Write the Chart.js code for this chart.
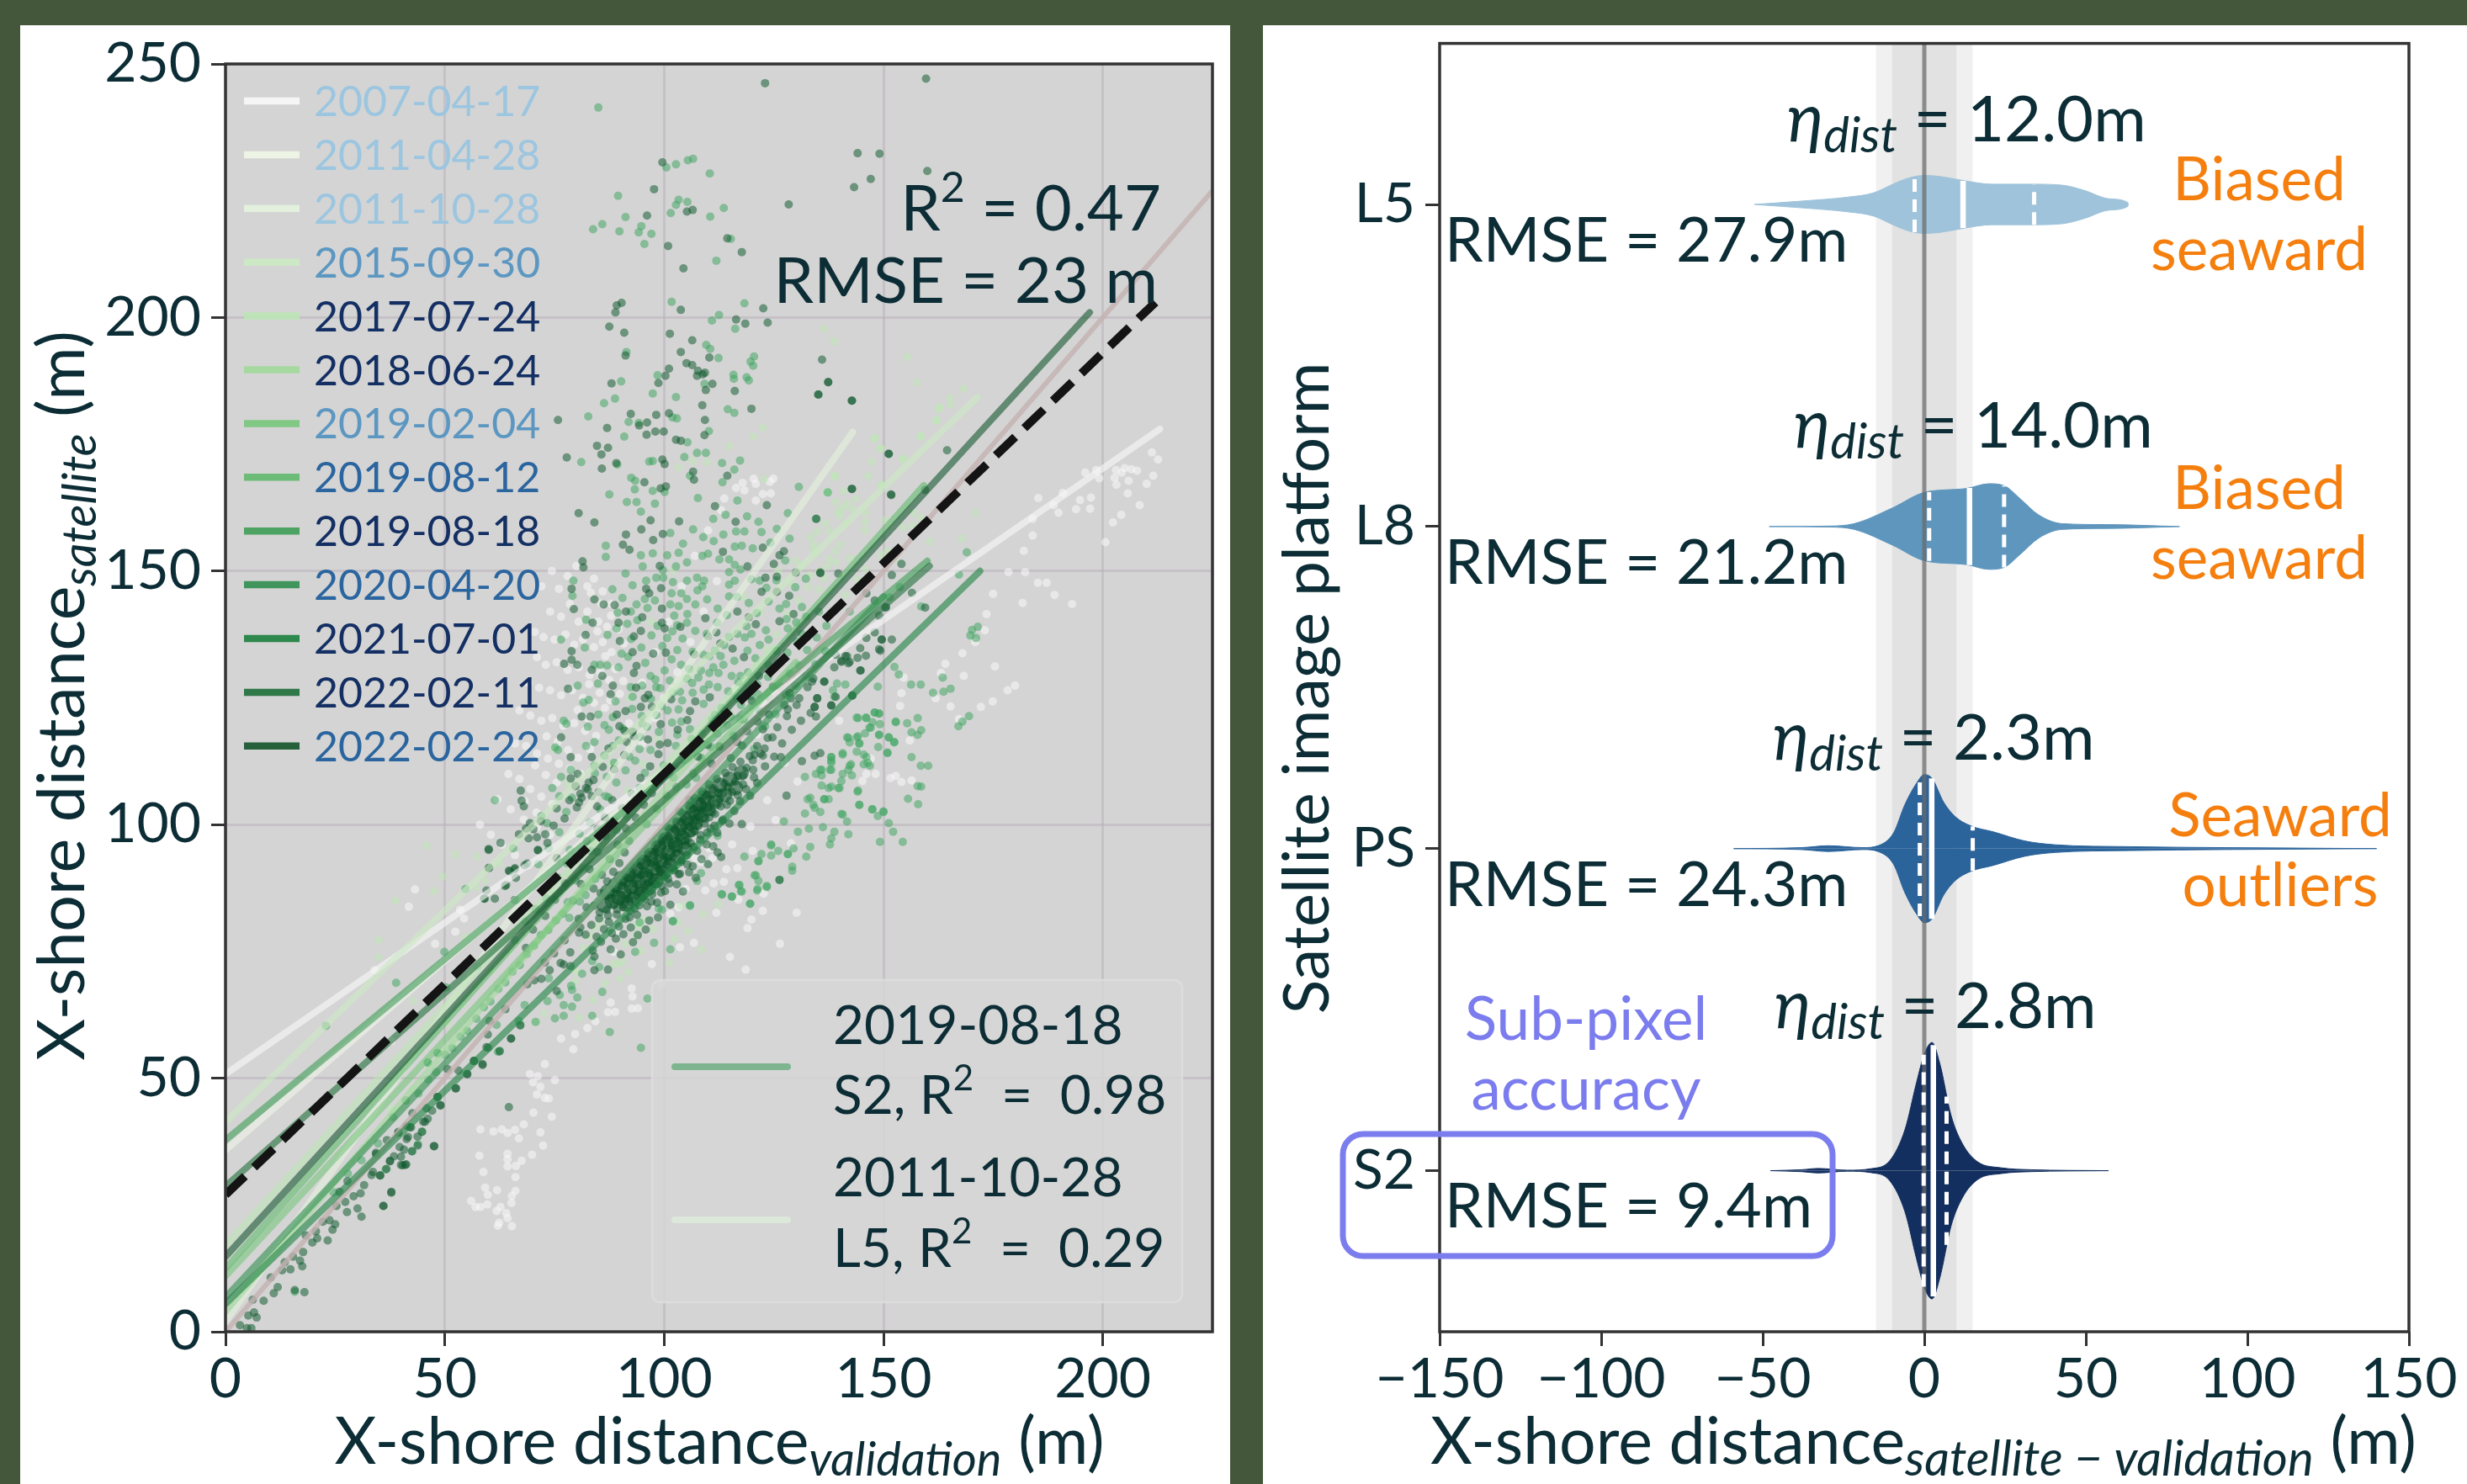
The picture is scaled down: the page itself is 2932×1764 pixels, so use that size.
<!DOCTYPE html>
<html><head><meta charset="utf-8">
<script src="https://cdn.jsdelivr.net/npm/chart.js@4"></script>
<style>
html,body{margin:0;padding:0;width:2932px;height:1764px;background:#45573a;overflow:hidden}
.panel{position:absolute;background:#fff;top:30px;height:1734px}
canvas{position:absolute;left:0;top:0}
</style></head><body>
<div class="panel" style="left:24px;width:1438px"></div>
<div class="panel" style="left:1501px;width:1431px"></div>
<canvas id="left" width="2932" height="1764"></canvas>
<canvas id="right" width="2932" height="1764"></canvas>
<script>
// ---------- left panel data ----------
const dates=['2007-04-17','2011-04-28','2011-10-28','2015-09-30','2017-07-24','2018-06-24','2019-02-04','2019-08-12','2019-08-18','2020-04-20','2021-07-01','2022-02-11','2022-02-22'];
const dateLineColors=['#f7f7f7','#eef4e6','#e3f1dd','#cbe9c4','#bde4b6','#a2d99c','#7bc77f','#66bb72','#46a05c','#379154','#248445','#26733f','#1b5a33'];
const dateTextColors=['#9cc6e0','#9cc6e0','#9cc6e0','#5c97c2','#132f63','#132f63','#5c97c2','#2b659f','#132f63','#2b659f','#132f63','#132f63','#2b659f'];
const fitStart=[[0,50.8],[0,35.8],[0,2],[0,41.4],[0,17],[0,4],[0,11],[0,12.5],[0,37.8],[0,6.8],[0,5.5],[0,28.7],[0,14.8]];
const fitEnd=[[213,178],[110,118],[143,177.4],[171.4,184.3],[125,135],[115,122],[130,132],[159.2,166.9],[160,152],[150,145],[172,150],[160.5,151],[197,201]];
const overallFit=[[0,27],[212,203]];
const oneToOne=[[0,0],[225,225]];
const scatterWhite=[[120.4,168.2],[124.9,168.2],[124.1,167.6],[117.9,167.4],[120.9,167.2],[116.4,166.4],[118.3,165.9],[122.5,165.2],[124.3,165.3],[113.7,164.3],[120.9,163.9],
[211.2,173.4],[212.6,172],[211.5,168.8],[210,167.2],[196,169.4],[198.5,169.9],[199.2,168.3],[203,169.9],[205,170.3],[206.5,170.1],[207.8,169.8],[202.7,168.4],[204.3,169.4],[205.9,167.8],[203.1,167],[205.7,165.3],[208.4,163],[204.2,161.1],[202.3,159.6],[200.6,155.7],[197.3,164.5],[197.1,162.3],[193.9,162.2],[194.8,164],[190.9,165.4],[185.3,164.4],[188.8,163],[189.9,161.5],[184,160.3],[184,157],[182,154],[178.5,149.8],[182.3,149.8],[185.2,147.7],[187.2,147.7],[189,145.3],[193,143.5],[181.7,143.7],[175,145.5],[173.5,141.5],[173.1,138.3],[170.9,136],[168,133.8],[164.1,131.7],[175.4,131.2],[163.1,129.9],[168.3,129.3],[180,127.4],[178.3,126.5],[174.9,124.3],[172.2,123.2],[165.3,123.3],[161.9,124.9],[154.1,125.9],[153.8,123.4],[154.6,129],[139.9,120.5],[156,116.6],[167.2,120.8],[146.1,110],[148.2,110],[151.6,109.2],[152.8,109.6],[154.1,108.4],[156.4,108.7],[145.2,108.6],[147.1,113],
[43.2,87.2],[41.8,83.8],[53.5,83.2],[54.4,81.5],[52.4,78.9],[47.8,76.5],[34,71.3],[37.8,57.3],
[72.8,52.8],[69.4,50.8],[71.2,50.4],[75.1,49.6],[70.1,49.2],[71.8,48.3],[71,46.8],[72.8,46.1],[73.7,46],[70.2,43.2],[74.4,42.4],[68,40.9],[58.1,39.9],[61.1,39.5],[63,39.9],[64.3,39.2],[66,39.8],[71.8,39.3],[66.9,38.1],[72.4,36.7],[69.9,34.9],[57.9,34.7],[64.3,35.1],[64.3,34],[67.5,33.7],[64.3,32.6],[66.2,32.7],[58.8,31.5],[66.1,30.5],[59.2,28.4],[61.9,27.9],[66.1,27.8],[59.8,27],[65.3,26.8],[56,25.8],[57,24.6],[58.1,24.6],[59.7,25.1],[65.2,25.4],[62.7,24.6],[61.8,23.8],[64,23.4],[64.3,22.4],[62.4,21.5],[62.1,20.9],[65.3,20.8],
[76.5,57.8],[79.7,58.7],[82.5,59.9],[84.3,61.2],[79.3,55.7],[87.2,63],[88.8,63.1],[87.8,64.9],[92.6,63.7],[94,63.8],[92.8,66.1],[92.6,67.7],[97.2,72.5],[88.5,74.9],[103.6,75.8],[115,73.9],[118.6,71.4],[126.4,76.5],[119,79.6],[122.5,83],[130.2,82.6],[119.9,81.3],[111.9,82.6],[101.4,82.4],[108.4,92.6],[111,93.4],[114.2,91.2],[116.7,91.4],[111.3,88.4],[109.4,87],[103.3,83.7],[120.2,94.8],[115.5,96.1],[110.3,95.3],[107.1,93.4],[104.9,87.3],[89.2,79],
[72,147],[74.4,150],[76,146.5],[78,149],[80,151],[82.5,147],[84,148.5],[86,146],[88,143.5],[74,142],[76.5,141],[78.5,143.5],[80.5,140],[82.5,142],[85,140],[87,139],[70.5,138],[72.5,137],[75,136.5],[77.5,137.5],[79.5,135.5],[81.5,136.5],[84,135],[86,136],[88,134],[71,133],[73,131.5],[75.5,132],[78,130.5],[80.5,131],[83,129.5],[85.5,130],[87.5,128.5],[69,128],[71.5,127],[74,126.5],[76.5,125.5],[79,126.5],[81.5,125],[84,124],[86.5,123],[67,122.5],[69.5,121.5],[72,120.5],[74.5,121],[77,119.5],[79.5,120],[82,118.5],[84.5,117.5],[66,116],[68.5,115.5],[71,114],[73.5,113],[76,112],[78.5,111],[81,110],[64.5,110],[67,109],[69.5,107],[72,105.5],[74.5,104],[62,105],[65,103],[68,101],[71,99.5],[74,98],[58,100],[60.5,98],[63,96],[66,94],[69,92],[95,128],[98,134],[101,140],[104,147],[107,153],[110,158],[113,162],[100,125],[103,130],[106,136],[109,142],[112,148],[92,120],[95,116],[98,121],
[83.3,145.7],[85.7,143.6],[87.9,141.2],[89.6,138.5],[90.8,135.7],[84.8,138.1],[86.6,133.2],[88.9,130.7],[90.7,128.3],[82.9,127.7],[85.3,126],[87.7,124.5],[89.9,125.8],[80.3,122.6],[82.6,121],[73.2,117.4],[75.7,116.3],[78.1,114.7],[80.4,113.2],[83.1,114.9],[70.6,111.7],[73,109.8],[75.5,108.3],[68.2,104.6],[70.9,102.4],[116.3,126.8],[118.7,122.6],[121.2,117.8],[124.7,121.4],[127.5,112.2],[130.4,108.5],[123.5,104.8],[119.7,99.6],[125.4,100.9],[128.9,96.3],[113.6,88.7],[116.9,85.2],[122.7,86.4],[106.8,76.7],[99.5,68.4]];
const scatterPale=[[136.5,197.8],[138.8,195.3],[155.5,192.2],[157.6,187.2],[162.6,182],[162,179.7],[122.5,178.3],[120.3,176.5],[148,176.1],[158.5,176.5],[114.8,174.6],[149.3,174.2],[154.4,172.1],[147.4,171.5],[109.7,171.5],[103.3,170.4],[139,168.7],[122.8,168.1],[149.6,167],[137.2,165.6],[106.5,171.7],
[168.2,186],[165.2,184.1],[165.3,182.8],[162.7,182.3],[162.1,179.7],[158.5,176.6],[148,176.2],[149.4,174.2],[154.4,172.1],[138.8,168.8],[141,165.8],[137.2,165.5],[149.6,166.9],[139.1,163.6],[141.6,163.3],[140.7,162.5],[142.9,162.2],[140,160.9],[145.8,161.6],[157,161.4],[158.6,160.5],[171,161.5],[141.3,159.3],[145.8,159.7],[150.3,160],[154.4,158.6],[156.7,158.9],[145.8,158],[137.8,157.9],[134.9,157.8],[133.3,156.7],[167.9,156.4],[160.5,155.8],[134,154.2],[134.6,153.4],[139.1,153.9],[139.1,151.7],[136.5,148.6],[133.3,149.2],[137.2,150.9],[135.3,146.4],[142.3,152.5],[149.6,153.1],[150.9,153.9],[152.5,152.5],[145.8,150.3],[144.2,148.4],[141.3,145.3],
[45.8,95.9],[52.4,94.1],[57.3,93.7],[62.4,92.3],[57.2,87.7],[47.6,86.9],[49.5,89.8],[38.8,85],[34.9,77.2],[54.7,77.9],[59.2,89],[34.9,73.8],[42.9,65.2],[54.4,59.1],[37.8,43.9],[38.4,43.6],[42.6,47.8],[49.9,56.1],[52.2,56.9],[70.9,61],[72.6,62.7],[90.5,72.9],[89.6,72.4],[93.7,78.2],[94.4,80.1],[95.6,81.2],[94,80.4],[91.8,71],[89.9,69.6],[102.4,77.4],[108.6,75.4],[85.4,80.7],[84.1,79.6],[82.9,77.9],[81.6,75.7],[80,71],[79.7,69.1],[103.9,84],[112.3,84.3],[103.3,80.7],[75,115],[78,108],[88,112],[92,125],[97,140],[102,150],[118,145],[122,142],[126,150],[130,152],
[118.6,128.4],[121,131.5],[123.4,134.6],[125.7,137.5],[128.3,141.6],[130.6,144.2],[132.9,146.9],[135.4,150],[137.7,152.4],[140.2,155.2],[128.8,147.5],[131.5,151.2],[134.1,155.3],[136.8,159.4],[139.6,161.7],[143.7,164.2],[146.5,168.7],[84.5,96.4],[88.1,101.6],[91.6,106.7],[95.2,112],[98.6,116.8],[78.2,90.3],[74.8,86.6],[71.1,82.7],[67.7,78.9],[64.4,75.1],[60.8,71.2],[57.5,68.4],[54.1,64.6],[50.6,60.9],[88.4,72.6],[91.2,76.5],[94.8,75.1],[97.5,79.4],[101.2,72.8],[105.4,79.1],[108.9,82.3],[86.5,68.7],[83.8,65.4],[80.6,61.9]];
const scatterMid=[[85,241.4],[102.7,230.2],[105.4,231],[106.6,231.3],[100.5,229.6],[110.4,228.4],[89.5,224],[103.3,223.2],[105.3,222.8],[102.7,222.2],[101.5,220.6],[113.6,221.6],[110.5,219.9],[91.2,219.8],[85.9,218.4],[83.8,217.4],[94.8,218],[94.2,216.8],[89.8,217],[97.1,216.5],[95.5,214.5],[115.2,215.5],[111.9,211.2],[101.7,203.1],[118.3,202.8],[112.5,200.5],[110.9,199.4],[116.2,197.8],[109.6,194.6],[110.5,193.8],[91.4,193.2],[112.4,192],[120.5,192.3],[119.7,191.3],[120.3,190.5],[115.8,188.7],[118.8,188.2],[115.9,187.9],[119.3,187.6],[98.5,188.6],[90.2,187.4],[109.2,186.9],[97.4,185],[102.7,184.3],[88.8,184],[86.3,183.1],[82.7,180.5],[114.5,181.9],[116,181.2],[101.9,180.3],[102.9,180.1],[91.9,179.4],[94.2,179.2],[110.2,177.6],[90.9,176.5],[105.3,175.4],[107.5,173.3],[109.5,173.3],[104.6,172.5],[81.1,171.5],[96.6,171.6],[97.4,171.7],[113.2,171.3],[117.3,171.8],[89.3,171],[116,170],[105.9,168.8],[92.5,168.4],[93.4,167.8],[113.3,167.5],[93.3,166.1],[97.4,165.8],[130.7,166.6],[87.5,165.1],[100.1,165.6],[107.7,164.4],[137.3,165.5],
[86.7,155],[86.7,152.8],[94.7,153.1],[93.7,163.6],[91.5,163.6],[97.9,163.3],[94.7,161.7],[101.4,157.5],[105.2,151.7],[102.7,150.9],[100.7,153.1],[103.3,153.6],[108.7,153],[110,153.4],[111.3,155.9],[114,161.1],[116.7,163.9],[116.4,157.8],[118.3,157.8],[121.5,159.7],[122.2,157.7],[125.7,158.3],[128.6,156.4],[128.2,161.4],[134.6,160.3],[116.1,154.8],[117.7,155],[120.2,154.5],[112.6,152.3],[114.8,152.3],[116.1,151.2],[117.4,150.3],[114.8,149.8],[107.5,148.7],[109.1,148.1],[108.7,147],[114.8,147.3],[116.1,148.1],[119.9,148.4],[121.8,148.1],[91.2,149.5],[79.3,148.1],[79.1,145.1],[95.9,148.1],[98.2,148.7],[99.8,148.7],[105.2,148.1],[93.7,143.4],[95.6,144.5],[97.9,144.2],[101.7,145.6],[103.9,145.6],[101.4,143.4],[103.3,143.1],[105.2,144.5],[107.1,143.4],[112.2,142.6],[114.8,145],[119.3,143.7],[123.8,144],[126.3,142.6],[131.4,142.9],[142.3,142],[138.5,142],[82.2,140.4],[89.2,138.7],[92.4,142],[102.3,141.2],[105.2,139.8],[103,139.3],[107.1,138.2],[109.7,137.6],[114.8,137],[116.7,137.6],[119.9,137.6],[123.8,136.5],[128.2,138.7],[131.4,137.6],[135.3,142],[81.9,134.9],[76.5,136.5],[84.1,131.5],[85.4,131.5],[89.6,131],[96.9,129.3],[100.1,130.4],[101.7,132.6],[103.9,131.5],[105.2,128.8],[108.4,130.4],[110.3,129.9],[111.6,134.3],[110.3,133.2],[112.9,133.2],[113.5,131.5],[119,134.3],[121.8,135.4],[123.8,131.5],[115.4,129.3],[117.4,129.3],[121.2,127.7],[80.3,127.4],[92.4,127.1],[95,127.4],[98.2,127.1],[102,126],[106.5,126],[109,126.6],[112.2,127.1],[116.7,124.9],[81.6,124.1],[82.8,124.6],[88.9,124.3],[92.8,125.2],[98.2,121.6],[103.3,122.7],[109,123.8],[111.6,121.6],[77.1,120.5],[77.7,119.9],[86.4,119.6],[95,119.9],[98.8,118.3],[103,117.7],[105.9,118.8],[82.2,115.5],[84.1,116.3],[88.3,115.5],[75.8,114.7],[75.2,115.2],[94.4,114.9],[96.9,114.7],[102.7,115.5],[86.4,113.6],[88.6,112.2],[84.1,111.6],[76.5,109.4],[78.7,110.8],[74.5,107.2],[76.1,105.6],[79,105.3],[72,101.7],[73.3,100.3],[77.7,102.5],[86.7,105.6],[94.4,107.2],[61.4,104.8],[65.6,95.3],
[132.1,109.4],[134.6,110],[135.9,110.8],[138.1,113.3],[138.1,112.2],[140.7,114.1],[142.3,111.6],[137.8,110.8],[141.7,117.2],[143.9,117.2],[144.5,116],[144.2,121],[146.1,121],[148,122.1],[149,121.9],[146.8,119.1],[149,117.7],[151.2,117.2],[152.5,116.3],[152.8,120.2],[145.5,113.8],[146.4,112.2],[150.9,114.1],[133.3,105.3],[132.7,105],[134,103.9],[134.3,103.3],[132.1,102.2],[135.6,102.5],[136.5,105],[137.5,107.2],[139.7,107.2],[144.2,106.7],[144.5,103.9],[140.7,102],[141.7,100.6],[147.4,103],[148.7,101.7],[150,102.5],[151.2,100.3],[152.2,98.6],[154.4,96.6],[149.2,96.6],[142,98.1],[127.3,100.6],[130.5,98.6],[133,99.2],[136.2,99.5],[138.8,98.6],[138.1,97.3],[137.8,96.1],[124.4,96.1],[129.5,95.3],[133.3,95.6],[128.2,94.2],[132.4,93.7],[124.4,93.9],[121.5,92.8],[129.2,91.7],[120.6,90],[121.5,88.9],[117,88.1],[117.7,86.8],[121.2,87],[123.4,87.7],[113.2,86.2],[115.4,85.8],[119.6,84.4],[105.9,84],[102,81],[99.5,83.2],[94.4,80.7],[108.4,90.4],[112.2,97.8],
[169,153.7],[167.2,149.3],[158.6,143],[153.7,146.8],[151.4,144.8],[152.5,131.1],[153.5,129.6],[156.3,127.6],[158.5,127.6],[161.3,126],[163.7,126.2],[165.3,126.8],[163.5,129],[171.5,139],[170.2,138.4],[169.8,137.3],[171.1,136.8],[169.5,121.4],[168,120.3],[167.1,119.4],[148.7,127.2],[141.3,127.6],[139.4,127.8],[138.5,126.5],[138.8,125.2],[146,121.1],[143.9,121.1],[148,122.1],[149,121.9],[152.8,120.3],[155.4,120],[157.8,121],[158.6,118.6],[156.4,118.2],[157.8,117.7],[147.5,120.2],[147.1,119.1],[149.2,119.8],[145.8,118],[149,117.7],[144.2,117.4],[142,117.1],[142.3,116.2],[144.5,116],[151.2,117.2],[152.4,116.2],[148.8,115.3],[150.9,114.2],[143.9,114.4],[140.7,113.8],[138.1,113.3],[138.1,112.6],[146.1,113.3],[142.6,111.9],[145.5,111.9],[146.9,111.6],[156.4,113.3],[158.5,111.6],[160.2,111.6],[138.1,110.8],[142,110.8],[135.6,110.8],[135.9,109.7],[140.7,110],[142.8,109.7],[140.4,108.6],[138.1,107.5],[135.9,107.7],[140,107.2],[144.1,106.5],[157.8,107.6],[158.6,107.5],[155.6,105.1],[157.9,104],[144.5,103.9],[147.5,103],[150,102.6],[140.4,102.1],[137.5,105],[136.5,105],
[54.7,87.3],[38.9,68.8],[49.9,74.9],[50.3,67.9],[57.3,72.1],[46.1,53.1],[48.3,55],[62.1,55.2],[62.5,55.4],[67.2,60.5],[66.9,61.3],[68.2,64.4],[61.8,60.5],[73.4,65.2],[75.1,61.8],[77.1,62.3],[77.1,64.4],[79,64.1],[80.2,65.9],[79,67.4],[83.6,62.3],[85.9,67],[87.6,59.1],[94.7,56],[96.2,65.7],[93.4,74.9],[97.7,76.7],[101.4,75.4],[102,80.9],[98.8,83.4],[105.9,84.1],[107.5,88.9],[113.1,86.3],[115.5,85.8],[119.6,84.4],[121.3,87.3],[123.4,87.9],[126.3,89.1],[117.5,86.9],[117.2,88.1],[120.9,90],[129.2,90.9],[128.2,94.2],[122.2,94.2],[118.3,93.7],[124.4,95.9],[126,94.8],[121.5,92.8],[43.9,37],[44.8,39.5],[42.6,35.6],[36.5,32],[22.9,60.3],[15.8,7.9],[46.1,53.1],[48.4,54.9],[70.7,61.1],
[71.3,92.2],[73.7,95.3],[76.1,98.5],[78.5,95],[80.7,98.2],[83.1,100.4],[85.4,103],[87.3,105.4],[89.1,108.3],[91.2,110.7],[93.4,112.6],[95.6,110.2],[97.8,108.4],[99.9,111.7],[102.1,109.3],[104.3,112.8],[106.6,110.1],[108.7,118],[110.9,120.7],[113.1,123],[115.3,121.1],[117.5,123.6],[119.7,125.3],[121.9,122.4],[124.1,124.9],[126.4,127.3],[128.6,129.8],[130.8,131.4],[82.6,119.3],[85,121.7],[87.4,118.7],[89.7,116.6],[92.1,113.4],[94.5,117.3],[97,124.8],[99.4,123.4],[101.8,120.1],[104.1,124.5],[106.4,127.9],[108.9,133.5],[111.2,131],[113.7,135.4],[116,132.3],[118.4,136.9],[120.8,132.8],[123.2,138.3],[125.6,134.2],[127.9,140.5],[130.3,136.1],[132.6,134.4],[134.8,136.9],[137,139.2],[90.3,133.7],[92.5,136.6],[94.8,134.9],[97.1,137.3],[99.6,135.2],[101.9,138.1],[104.2,136.7],[106.5,134.1],[88.2,146.4],[90.5,144.7],[92.8,147.2],[95.1,150.9],[97.4,153.5],[99.7,150.2],[102,147.8],[104.3,155.4],[106.6,158.2],[108.9,156.7],[111.2,160.3],[113.5,157.2],[118.9,160.8],[124.2,155.6],[127.6,152.1],[129.9,146.8],[132.3,148.5],[46.2,49.7],[50.1,54.6],[53.6,58.2],[57.2,61.7],[60.4,65.1],[63.8,68.9],[67.1,72.3],[70.3,76.1],[73.6,79.2],[76.9,82.4],[44,47],[48,51.2],[51.7,55.9],[55.1,59.3],[58.9,64],[62.2,67.6],[65.4,71],[68.7,74.5],[71.9,78.2],[75.3,81.1],[78,84.7],[81.6,91.4],[83.3,94.8],[31,33.8],[27.9,31.2],[24.6,27.5],[34.8,37.1],[38.2,42.3],[41.1,45.6],
[84.2,110.1],[86.9,109.4],[88.3,121.2],[90.6,118.9],[92.7,122.8],[94.9,121.4],[96.1,119.3],[99.1,126.9],[101.3,128.4],[103.6,126.2],[105.7,130.7],[107.8,129],[110.2,127.6],[112.4,129.9],[114.6,126.3],[116.9,128.1],[119.1,130],[121.4,125.7],[123.7,129.1],[125.9,131.8],[128.1,133.9],[87.1,137.4],[89.4,141.8],[91.6,139.6],[93.9,140.3],[96.2,142.7],[98.5,139.2],[100.7,136.8],[103,134.4],[105.3,141.5],[107.6,146.2],[109.8,144.4],[112.1,139.8],[114.3,141.3],[116.6,144.9],[118.8,139.1],[121.1,141.7],[123.3,146.7],[125.6,148.2],[127.8,143.5],[130.1,139.9],[132.4,141],[84.9,127.8],[87,131.4],[91.8,133.1],[95.7,131.9],[98,128.6],[100.8,122.5],[103.9,120.3],[106.2,116.9],[108.4,113.2],[110.7,115.3],[113.2,119.9],[115.8,117.5],[118.1,120.7],[120.5,114.9],[123,119.4],[125.4,121.8],[127.7,125.6],[130,127.4],[132.3,129.3],[134.5,131.6],[136.7,134.2],[89.2,98.9],[91.5,101.7],[93.8,104.3],[96,100.1],[98.3,103.1],[100.6,105.7],[102.8,107.4],[105.1,107.9],[107.3,109.2],[75.6,89.6],[77.8,92.4],[79.9,89],[82.1,86.1],[84.3,89.3],[73.2,85.4],[70.7,83.3],[68.3,80.9],[66,77.2],[78.4,81.6],[80.8,84.8],[83.6,73.1],[85.2,71.9],[81.3,70.6],[78.8,68.2],[76.2,66.4],[73.7,69.7]];
const scatterDark=[[123,246.2],[159.7,247.1],[99.6,230.6],[144.1,232.4],[149.1,232.3],[160,228.9],[147.1,227.3],[143.3,225.7],[97.7,225.3],[128.4,222.3],[96.1,220.1],[105.2,220.9],[106.5,221.2],[100.9,214.1],[114.4,215.6],[117.7,212.9],[104.4,209.7],[90.3,202.9],[89.2,202.4],[88.9,201],[103.8,201.5],[122.6,201.8],[116.4,199.6],[118.5,198.8],[123.6,199],[87.5,198.2],[90.9,197],[101.3,196.8],[106.4,195.5],[103.8,193.2],[91.2,192.5],[110.3,192.1],[136,191.7],[105.1,191],[106.4,190.6],[101.1,189.9],[107.7,189.5],[109.3,189.1],[107.5,188.5],[108.8,188.8],[100.3,188.5],[98.7,187.1],[88,187],[111,186.9],[137.4,187.3],[109.5,185.7],[116.1,185.5],[135.2,184.8],[142.8,183.6],[108.7,182.7],[119.9,182],[75.8,179.8],[92.4,181],[98.2,180.8],[101.1,181.1],[109.3,179.8],[96.1,179.3],[94.3,178.7],[87,178.2],[98,177.5],[99.9,177.5],[96,176.9],[109.2,176.8],[102.7,175.9],[103.8,175.7],[84.7,174.7],[87.2,174.3],[85.7,173],[77.8,172.4],[89.1,171.3],[85.8,170.2],[99.6,172],[100.1,171.1],[106.6,169.6],[106.8,168],[114.4,168.8],[95.5,167.5],[151.2,173.1],[142.8,166.2],[99.2,166.3],[100.4,166.7],[151.8,165],
[80.5,161.4],[84.1,159.6],[96.9,160],[103.4,159.8],[94.8,158.2],[91.3,157.2],[99.7,157.3],[90.6,155.2],[92.1,154.2],[97.5,156.1],[81.4,151.9],[81.6,150.7],[99,151],[78.9,146.5],[79.4,142.5],[95.9,146.5],[96.6,145.6],[99.3,146.6],[99.5,142.6],[84.1,144.4],[86.2,143.4],[88.7,143.3],[91.3,142],[83.7,139.8],[82.1,137.4],[89.6,139.8],[95,140.9],[99.5,139.8],[100.1,138.7],[89.9,136.2],[93.1,137.1],[94.7,138.2],[92.8,134],[97.5,133.7],[78.9,134.2],[78.9,132.5],[80.2,131.5],[77.2,131.7],[83.5,130.5],[85.9,129.3],[93.7,131.3],[93.1,129.9],[78.1,126.8],[88.3,127.4],[87.8,125.7],[95.6,124.9],[94.7,123.2],[97.2,123.2],[91.2,122.4],[89.2,121.7],[81.2,121.3],[83.2,121.3],[91,118.5],[92.8,118.3],[91.5,116.3],[76.5,117.2],[99,115.8],[78.7,113.3],[83.5,113.3],[86,111.4],[80.3,110],[78.7,109.1],[82.2,107.2],[80.9,106.1],[82.8,108.3],[83.5,105.6],[80.6,104.4],[75.5,103.2],[67.3,106.7],[67.5,104.7],[68,103.6],[69.4,100.3],[68.5,99.2],[66.9,98.1],[71,97.5],[72.9,98.1],[62.7,96.4],[60,95.2],[71.3,94.9],[75.5,93.4],[60.1,91.5],[64.6,90.9],[65.9,91.2],[68.8,92.3],[63.7,87.9],[59.1,85.4],[66.2,85.1],[122.5,154.6],[127.3,153.9],[125,151.4],[126.3,153.1],[125.7,148.9],[130,149.7],[135.6,149.7],[119,150.9],[123.1,148.7],[111.6,162.8],[123.4,163],[116.3,159.7],[113.4,153.8],[122.2,145.9],[125.7,145.9],[128.5,145.1],[148,144.2],[146.1,145.6],[150.6,142.9],[126.3,140.1],[129.5,141.5],[120.9,139.5],[111.9,137.9],[109.4,140.7],[116.7,142],[119.3,140.9],[141.7,133.2],[142.3,132.1],[140.4,132.1],[144.8,130.4],[149.6,136.5],[149.3,134.3],[139.1,133.5],[134,128.8],[132.7,127.1],[136.5,128.2],[130.8,124.9],[128.9,124.9],[134.9,124.9],[138.1,123.5],[139.1,125.2],[142.9,125.5],[134.3,123.2],[128.2,122.7],[124.7,117.2],[122.5,118.8],[121.2,115.5],[120.6,113.8],[126.6,113.3],[122.5,113.6],[127.9,105.7],[131.4,112.5],[134.3,113.6],[135.6,114.1],[117.7,100.1],[112.2,94.5],[106.5,91.8],[103.6,90.3],[126.3,89.1],[105.9,122.4],
[137.4,187.2],[135.1,184.8],[142.8,183.6],[151.2,173.1],[164.5,173.8],[142.8,166.2],[151.7,165.1],[159.5,166],[134.7,160.3],[135.6,149.6],[139.7,149.5],[154.1,151.4],[151.9,149.2],[156.5,145.7],[159.5,142.8],[150.4,142.8],[149,141.2],[148,137.9],[151.9,136.5],[149.6,136.5],[146.1,136.8],[144.7,134.8],[149,134.6],[141.3,133.2],[144.1,132.9],[146,133.3],[140.4,132.3],[142,131.8],[144.7,130.4],[138.8,131],[136.5,128.2],[133.7,128.2],[138.1,123.5],[134.9,124.9],[134.3,123.2],[134.6,121.3],[142.9,125.4],
[60,95],[71.2,95],[60,91.4],[64.8,90.8],[66,91.4],[68.2,92],[59.5,87],[58.9,85.4],[61.4,85.4],[64,88.1],[66.2,89.5],[65.9,85.1],[68.5,75.7],[77.3,77.2],[80.6,78.7],[84.1,74],[84.1,71.3],[87.2,71.4],[74.9,74.6],[72.8,72.8],[73.9,71.3],[77.1,72.4],[78.7,72.1],[72,69.6],[75.5,67.2],[70.4,69.3],[68.8,68.5],[63.8,63.6],[60.2,61.3],[59.8,58.6],[65.1,57.8],[59.5,56.1],[56.6,53.4],[58.6,52.8],[50.6,51.8],[53.1,51.5],[55.1,50.8],[52.5,48],[48.3,46.3],[49,44.7],[46.1,42],[42.6,43.1],[45.1,41.4],[41.3,40.6],[42.3,40.3],[39.4,39.2],[36.8,37.8],[41.6,38.4],[39.7,36.4],[40.7,35.9],[47.6,36.6],[37.5,33.7],[34.3,35],[40,32.9],[41,32.9],[33.6,31.5],[35.2,30.8],[37.8,27.6],[36,24.8],[64.6,44.3],
[18.3,19],[18,7.8],[15.8,8.2],[11.9,8.8],[11,7.6],[10.3,10.7],[8.7,6.1],[7.1,2.8],[6.2,6.3],[5.2,3.2],[6.5,3.8],[3.3,1.3],[5.9,0.7],[4.9,0.7],[12.9,12.1],[14.8,12.3],[15.4,14.8],[13.5,13.7],[17.7,15.7],[17,14],[17.5,12.9],[19.8,17.6],[20.9,18.4],[20.6,19.8],[23.3,18],[22.2,21.7],[23.7,22],[24.4,20.1],[25,21.2],[25.3,24.8],[27.7,23.6],[30.1,24.3],[31,22.7],[27.3,25.6],[29.2,26.7],[30.8,27.3],[26,27.6],[27.8,29.7],[31.6,28.9],[37.8,27.4],[36,24.8],[33.3,30.9],[35.3,30.8],[36.7,32.1],[34.3,35.3],[37.5,33.6],[40.4,32.8],[41.2,33],[38.4,34.6],[40,34.5],[42.5,35.6],[43.8,36.7],[44.8,39.4],[47.5,36.6],[42,40.3],[39.4,39.4],[41.3,38],[43.8,38.5],[45.5,41.4],[47.1,43.6],[45.8,44.1],[49,44.6],[48.4,46.3],[52.5,48],[55.1,50.8],[56.7,53.4],[58.6,52.6],[62.5,55.3],[65.1,57.8],[59.9,56],[67.2,60.4],
[82.1,78.3],[83.4,80.2],[84.6,77.9],[85.2,81.5],[86.3,79.4],[86.9,83.2],[87.4,80.8],[88.1,78.6],[88.6,84.1],[89.2,82.3],[89.7,79.9],[90.1,86.2],[90.6,83.7],[91.2,81.4],[91.5,88.3],[91.9,85.4],[92.3,83],[92.7,90.1],[93.1,87.2],[93.4,84.9],[93.8,82.2],[94.2,89.4],[94.5,86.5],[94.9,91.8],[95.3,88.1],[95.6,85.3],[96,93.2],[96.3,90.4],[96.7,87.6],[97.1,84.8],[97.4,94.1],[97.8,91.5],[98.1,88.9],[98.5,96],[98.8,93.3],[99.2,90.6],[99.5,87.9],[99.9,97.4],[100.2,94.8],[100.6,92.1],[100.9,89.3],[101.3,99.1],[101.6,96.5],[102,93.7],[102.3,91],[102.7,100.6],[103,97.8],[103.4,95.2],[103.8,92.6],[104.1,102.3],[104.5,99.5],[104.8,96.7],[105.2,94],[105.6,103.7],[105.9,101],[106.3,98.3],[106.7,95.6],[107,105.2],[107.4,102.4],[107.8,99.7],[108.2,97],[108.6,106.5],[109,103.8],[109.4,101.1],[109.8,98.4],[110.2,107.9],[110.6,105.1],[111,102.4],[111.5,99.8],[112,109],[112.4,106.3],[112.9,103.6],[113.4,101],[114,110.2],[114.5,107.4],[115,104.7],[115.6,111.3],[116.2,108.5],[116.8,105.8],[117.4,112.4],[118,109.7],[118.7,107],[119.5,113.5],[120.3,110.8],[121.2,108.2],[122,114],[123,111.5],
[88,85.5],[89,87.2],[90,84.8],[90.8,88.9],[91.7,86.6],[92.5,89.3],[93.2,91.6],[94,86.9],[94.7,92.7],[95.5,90.2],[96.2,88.4],[96.9,92.4],[97.6,89.7],[98.3,94.5],[99,92.2],[99.7,95.9],[100.4,93.5],[101.1,97.6],[101.8,95.1],[102.5,98.9],[103.2,96.6],[103.9,100.4],[104.6,98],[105.3,101.8],[106,99.4],[106.7,103.2],[107.4,100.8],[108.1,104.6],[108.8,102.2],[109.5,105.9],[110.2,103.5],[84,84],[85.5,86.5],[87,88.8],[88.4,90.7],[89.8,92.4],[91,94.5],[92,96.8],[80.5,81.4],[82.3,83.7],[83.9,87.4],[85.8,90.1],[87.6,93.2],[89.4,96],[91.3,99.2],[93.5,101.4],[95.4,103.9],[97.2,106.2],[79.2,85],[81,88.3],[83,91.2],[84.8,94.6],[86.7,97.7],[88.5,100.8],[90.4,103.3],[92.6,106.1],[94.6,109.2],[96.8,111.5],[98.7,113.9],[100.8,116.1],[103.1,118.7],[105.3,120.6],[107.7,113.4],[109.9,115.7],[112.1,117.9],[114.4,119.6],[116.6,116.3],[118.9,118.4],[121.3,120.3],[123.6,117.1],[125.8,119.2],[128,121.4],[130.2,123.6],[113,93.6],[110,92.2],[107.2,89.5],[104.3,86.8],[101.4,84.2],[98.6,81.7],[95.8,79.3],[92.9,76.8],[90.1,74.4],
[85.3,82.7],[86.8,85.9],[87.2,82.1],[88.5,86.6],[89.3,83.3],[90.4,87.9],[90.9,84.2],[91.8,89.6],[92.1,81.7],[92.6,86.1],[93.3,83.5],[93.7,90.3],[94.1,88.2],[94.4,84.1],[95.2,91.1],[95.7,87],[96.1,83.9],[96.4,94.2],[96.8,90],[97.3,86.3],[97.7,92.8],[98,88.3],[98.4,95.3],[98.9,91.2],[99.3,86.6],[99.8,93.8],[100.1,89.9],[100.5,97],[100.9,92.7],[101.2,88.4],[101.7,95.8],[102.1,91.5],[102.4,99.2],[102.8,94.4],[103.3,90.2],[103.7,97.5],[104,93],[104.4,101],[104.9,95.9],[105.3,92.1],[105.7,99.6],[106.1,96.3],[106.5,103.1],[107,98.7],[107.5,94.8],[107.9,101.5],[108.3,97.9],[108.8,105.2],[109.2,100.2],[109.7,96.1],[110.1,103.3],[110.6,99.2],[111.1,106.8],[111.6,102.1],[112.1,98.4],[112.7,105],[113.2,100.7],[113.8,108.1],[114.3,103.9],[114.9,100.2],[115.5,106.4],[116,102.7],[116.7,109.6],[117.3,104.6],[118,107.9],[118.8,111.2],[119.6,105.7],[120.5,109.3],[94.9,85.7],[96.5,88.7],[98.2,91.9],[99.6,90.4],[101,93.5],[102.6,96.2],[104.2,98.7],[105.4,97.1],[106.9,100.9],[108.4,103],[110.3,101.4],[111.9,104.2],[113.5,106.2],[91.4,85.3],[93,88.4],[94.6,90],[96.3,92.5],[97.9,94.7],[99.4,96.8],[100.7,99.5],[103.5,102.6],[105.8,104.9],[80.9,79.7],[78.6,74.8],[76.4,72.7],[83.7,75.2],[85.6,76.9],[87.8,75.4],[89,77.5],[90.7,78.4],[92.4,79.7],[94,78.2],[96.6,81.1],[98.4,84.6],[100.2,86.9],[102.9,88.2],[105.7,90.6],[108.5,93.2],[111.2,95.7],
[79.8,107.6],[81.2,105.3],[82.6,106.9],[83.9,108.8],[80.1,103.4],[78.4,104.8],[84.7,103.6],[77.3,101.2],[85.1,106.4],[70.2,99.1],[71.9,100.7],[69.1,97.3],[73.4,96.4],[74.8,99.8],[110.8,112],[112.6,115.4],[115.2,113.1],[117.8,115.6],[120.2,112.7],[122.9,115],[125.1,113.4],[126.9,116],[129.1,118.7],[131.2,120.5],[133.4,122],[127.4,123.6],
[88.6,110.9],[90.9,113.7],[93.1,117.4],[96.3,116.8],[99.2,119.8],[101.6,124.7],[107.1,124.3],[110.4,125.1],[113.9,121.8],[117.3,120.9],[120,124.4],[123.9,121.7],[87.3,115],[89.8,119.4],[93.6,127],[96.4,125.6],[100.4,133.9],[103.7,139],[106.9,133.6],[110,137.1],[112.8,135.7],[115.6,134.7],[118.2,133],[121.6,129.3],[124.8,127.2],[128.6,126],[84.8,99.1],[86.5,101.4],[88.2,104.8],[82.4,96.8],[80,93.4],[77.4,88.4],[75.1,85.2],[72.9,82],[70.1,79.3]];
const scatterCore=[[86.3,84.1],[87.1,86.8],[88.2,84.9],[88.9,88.1],[89.6,85.6],[90.2,89.4],[90.8,86.9],[91.4,84.3],[91.9,90.2],[92.5,87.7],[93,85.2],[93.6,91.4],[94.2,88.8],[94.8,86.3],[95.3,92.6],[95.9,90.1],[96.5,87.5],[97,94],[97.6,91.3],[98.1,88.9],[98.7,95.6],[99.2,92.8],[99.8,90.4],[100.3,97.1],[100.9,94.5],[101.4,92],[102,98.6],[102.6,96],[103.1,93.6],[103.7,100],[104.2,97.5],[104.8,95.2],[105.4,101.3],[106,99],[106.6,103],[107.2,100.5],[107.9,104.1],[108.5,101.9],[109.2,105.4],[110,103.1],[110.8,106.6],[111.7,104.5],[112.7,107.8],[113.8,105.9],[115,109],[116.3,107.3],[117.6,110.2]];
const xTicksLeft=[0,50,100,150,200];
const yTicksLeft=[0,50,100,150,200,250];
// ---------- right panel data ----------
const platforms=['L5','L8','PS','S2'];
const platformColors=['#9fc3da','#5f96bd','#2b639b','#132f5f'];
const violinX=[
[-52.6,-38,-24,-15.7,-9.7,-4.9,0,4.8,11.6,21,33,42.6,49.7,57,63,63.2],
[-48,-29,-21.7,-9.8,0,12.9,20,24.7,29.5,35.4,42.6,56.9,79],
[-59,-38,-29.7,-19,-14.3,-9.5,-6,-2.4,0,2.4,6,9.5,14.3,21.4,31,40.4,64,93,140],
[-47.6,-38,-32.8,-23.8,-16.6,-10.7,-6,-2.4,0,2.4,4.8,8.3,11.9,16.6,23.8,33,57]];
const violinW=[
[0,.0105,.0225,.036,.063,.082,.09,.087,.075,.063,.063,.06,.043,.018,.006,0],
[0,.0015,.009,.058,.106,.118,.133,.127,.088,.036,.009,.006,0],
[0,.003,.009,.003,.009,.049,.137,.203,.23,.218,.144,.1,.071,.052,.024,.012,.006,.003,0],
[0,.003,.007,.0015,.006,.031,.127,.274,.362,.398,.333,.171,.082,.027,.009,.003,0]];
const quartileX=[[-3,12,34],[1.5,14,24.7],[-1.4,2.3,15],[-0.2,2.8,6.9]];
const quartileH=[[.086,.073,.063],[.107,.12,.127],[.21,.218,.069],[.36,.39,.23]];
const bandOuter=15, bandInner=10;
const xTicksRight=[-150,-100,-50,0,50,100,150];

const FONT='Lato, "Noto Sans", sans-serif';
const INK='#0c2d35', ORANGE='#f57f0e', BLUE='#7b7ced', SPINE='#333';
Chart.defaults.font.family=FONT;
Chart.defaults.animation=false;

function runsWidth(ctx,runs){let w=0;for(const r of runs){ctx.font=(r.i?'italic ':'')+r.s+'px '+FONT;w+=ctx.measureText(r.t).width;}return w;}
function drawRuns(ctx,runs,x,y,o={}){
  ctx.save();ctx.translate(x,y);if(o.rot)ctx.rotate(o.rot);
  const w=runsWidth(ctx,runs);let cx=o.align==='center'?-w/2:o.align==='right'?-w:0;
  ctx.textAlign='left';ctx.textBaseline='alphabetic';ctx.fillStyle=o.color||INK;
  for(const r of runs){ctx.font=(r.i?'italic ':'')+r.s+'px '+FONT;ctx.fillText(r.t,cx,r.d||0);cx+=ctx.measureText(r.t).width;}
  ctx.restore();
}
const T=(t,s=70)=>({t,s});
const frame=(c)=>{const a=c.chartArea,x=c.ctx;x.save();x.strokeStyle=SPINE;x.lineWidth=3.5;x.strokeRect(a.left,a.top,a.right-a.left,a.bottom-a.top);x.restore();};
const pts=a=>a.map(p=>({x:p[0],y:p[1]}));
const scatterSet=(a,color,r=5)=>({data:pts(a),showLine:false,pointRadius:r,pointBorderWidth:0,pointBackgroundColor:color,borderWidth:0});
const hexA=(h,a)=>{const n=parseInt(h.slice(1),16);return `rgba(${n>>16},${(n>>8)&255},${n&255},${a})`;};
const ordered=l=>{l.forEach((d,i)=>d.order=l.length-i);return l;};
const tickOpts=(lst)=>({afterBuildTicks(s){s.ticks=lst.map(v=>({value:v}));}});

// ---------- left chart ----------
const leftSets=[
  scatterSet(scatterWhite,'rgba(248,248,248,0.55)'),
  scatterSet(scatterPale,'rgba(190,232,182,0.5)'),
  scatterSet(scatterMid,'rgba(62,165,95,0.52)'),
  scatterSet(scatterDark,'rgba(14,88,44,0.52)'),
  scatterSet(scatterCore,'rgba(8,84,38,0.55)',9),
  {data:pts(oneToOne),borderColor:'rgba(196,178,178,0.8)',borderWidth:6,pointRadius:0},
  ...dates.map((d,i)=>({label:d,data:pts([fitStart[i],fitEnd[i]]),borderColor:hexA(dateLineColors[i],0.62),borderWidth:8,borderCapStyle:'round',pointRadius:0})),
  {data:pts(overallFit),borderColor:'#141414',borderWidth:10,borderDash:[32,15],pointRadius:0}
];
new Chart(document.getElementById('left'),{
  type:'line',
  data:{datasets:ordered(leftSets)},
  options:{responsive:false,
    layout:{padding:{left:118,top:76,right:1491,bottom:81}},
    plugins:{legend:{display:false},tooltip:{enabled:false}},
    scales:{
      x:{type:'linear',min:0,max:225,...tickOpts(xTicksLeft),afterFit(s){s.height=100;},
        grid:{color:'rgba(186,176,186,0.55)',lineWidth:3,tickColor:SPINE,tickWidth:3,tickLength:17},
        border:{display:false},
        ticks:{color:INK,font:{size:66},padding:0,maxRotation:0,autoSkip:false}},
      y:{type:'linear',min:0,max:250,...tickOpts(yTicksLeft),afterFit(s){s.width=150;},
        grid:{color:'rgba(186,176,186,0.55)',lineWidth:3,tickColor:SPINE,tickWidth:3,tickLength:17},
        border:{display:false},
        ticks:{color:INK,font:{size:66},padding:12,autoSkip:false}}
    }},
  plugins:[{id:'deco',
    beforeDraw(c){const a=c.chartArea;c.ctx.fillStyle='#d4d4d4';c.ctx.fillRect(a.left,a.top,a.right-a.left,a.bottom-a.top);},
    afterDatasetsDraw(c){
      const x=c.ctx;
      dates.forEach((d,i)=>{
        const y=120+i*63.9;
        x.strokeStyle=hexA(dateLineColors[i],0.95);x.lineWidth=8.5;x.beginPath();x.moveTo(290,y);x.lineTo(356,y);x.stroke();
        x.font='50px '+FONT;x.fillStyle=dateTextColors[i];x.textAlign='left';x.textBaseline='alphabetic';x.fillText(d,373,y+18);
      });
      x.save();x.fillStyle='rgba(214,214,214,0.85)';x.strokeStyle='rgba(222,222,222,0.8)';x.lineWidth=2.5;
      x.beginPath();x.roundRect(775,1165,630,383,10);x.fill();x.stroke();x.restore();
      x.save();x.lineCap='round';x.lineWidth=8;
      x.strokeStyle='#7fb58e';x.beginPath();x.moveTo(802,1268);x.lineTo(936,1268);x.stroke();
      x.strokeStyle='#dce8da';x.beginPath();x.moveTo(802,1450);x.lineTo(936,1450);x.stroke();x.restore();
      drawRuns(x,[T('2019-08-18',64)],990,1241);
      drawRuns(x,[T('S2, R',64),{t:'2',s:42,d:-28},T('  =  0.98',64)],990,1324);
      drawRuns(x,[T('2011-10-28',64)],990,1422);
      drawRuns(x,[T('L5, R',64),{t:'2',s:42,d:-28},T('  =  0.29',64)],990,1506);
      drawRuns(x,[T('R',76),{t:'2',s:50,d:-34},T(' = 0.47',76)],1380,274,{align:'right'});
      drawRuns(x,[T('RMSE = 23 m',76)],1376,360,{align:'right'});
      frame(c);
      drawRuns(x,[T('X-shore distance',77),{t:'validation',s:56,i:1,d:14},T(' (m)',77)],855,1740,{align:'center'});
      drawRuns(x,[T('X-shore distance',77),{t:'satellite',s:56,i:1,d:14},T(' (m)',77)],100,827,{align:'center',rot:-Math.PI/2});
    }}]
});

// ---------- right chart ----------
const rightSets=[
  {data:[{x:-bandOuter,y:3.5},{x:bandOuter,y:3.5}],borderWidth:0,pointRadius:0,backgroundColor:'#f0f0f0',fill:{value:-0.5}},
  {data:[{x:-bandInner,y:3.5},{x:bandInner,y:3.5}],borderWidth:0,pointRadius:0,backgroundColor:'#e2e2e2',fill:{value:-0.5}}
];
platforms.forEach((p,i)=>{
  const c=3-i;
  [1,-1].forEach(sign=>rightSets.push({label:p,data:violinX[i].map((v,k)=>({x:v,y:c+sign*violinW[i][k]})),
    borderColor:platformColors[i],borderWidth:1,backgroundColor:platformColors[i],pointRadius:0,fill:{value:c},cubicInterpolationMode:'monotone'}));
});
rightSets.push({data:[{x:0,y:-0.5},{x:0,y:3.5}],borderColor:'rgba(105,105,105,0.72)',borderWidth:5,pointRadius:0});
platforms.forEach((p,i)=>{
  const c=3-i;
  quartileX[i].forEach((q,k)=>rightSets.push({data:[{x:q,y:c-quartileH[i][k]},{x:q,y:c+quartileH[i][k]}],borderColor:'#fff',
    borderWidth:k===1?6.5:5,borderDash:k===1?[]:[15,9],pointRadius:0}));
});
new Chart(document.getElementById('right'),{
  type:'line',
  data:{datasets:ordered(rightSets)},
  options:{responsive:false,
    layout:{padding:{left:1561,top:50,right:69,bottom:81}},
    plugins:{legend:{display:false},tooltip:{enabled:false}},
    scales:{
      x:{type:'linear',min:-150,max:150,...tickOpts(xTicksRight),afterFit(s){s.height=100;},
        grid:{drawOnChartArea:false,tickColor:SPINE,tickWidth:3,tickLength:17},border:{display:false},
        ticks:{color:INK,font:{size:66},padding:0,maxRotation:0,autoSkip:false,callback:v=>String(v).replace('-','\u2212')}},
      y:{type:'linear',min:-0.5,max:3.5,...tickOpts([3,2,1,0]),afterFit(s){s.width=150;},
        grid:{drawOnChartArea:false,tickColor:SPINE,tickWidth:3,tickLength:17},border:{display:false},
        ticks:{color:INK,font:{size:66},padding:12,autoSkip:false,callback:v=>platforms[3-v]}}
    }},
  plugins:[{id:'deco2',
    afterDatasetsDraw(c){
      const x=c.ctx;frame(c);
      const eta=(val,xx,yy)=>drawRuns(x,[{t:'\u03b7',s:80,i:1},{t:'dist',s:58,i:1,d:13},T(' = '+val,76)],xx,yy);
      eta('12.0m',2124,168);eta('14.0m',2132,532);eta('2.3m',2107,903);eta('2.8m',2109,1222);
      drawRuns(x,[T('RMSE = 27.9m',73)],1717,311);
      drawRuns(x,[T('RMSE = 21.2m',73)],1717,694);
      drawRuns(x,[T('RMSE = 24.3m',73)],1717,1077);
      drawRuns(x,[T('RMSE = 9.4m',73)],1717,1459);
      const o={align:'center',color:ORANGE};
      drawRuns(x,[T('Biased',71)],2685,238,o);drawRuns(x,[T('seaward',71)],2685,321,o);
      drawRuns(x,[T('Biased',71)],2685,605,o);drawRuns(x,[T('seaward',71)],2685,688,o);
      drawRuns(x,[T('Seaward',71)],2710,994,o);drawRuns(x,[T('outliers',71)],2710,1077,o);
      const b={align:'center',color:BLUE};
      drawRuns(x,[T('Sub-pixel',71)],1885,1236,b);drawRuns(x,[T('accuracy',71)],1885,1319,b);
      x.save();x.strokeStyle=BLUE;x.lineWidth=7;x.beginPath();x.roundRect(1596,1348,582,145,24);x.stroke();x.restore();
      drawRuns(x,[T('X-shore distance',77),{t:'satellite \u2212 validation',s:58,i:1,d:14},T(' (m)',77)],2286,1740,{align:'center'});
      drawRuns(x,[T('Satellite image platform',75)],1579,818,{align:'center',rot:-Math.PI/2});
    }}]
});
</script>
</body></html>
